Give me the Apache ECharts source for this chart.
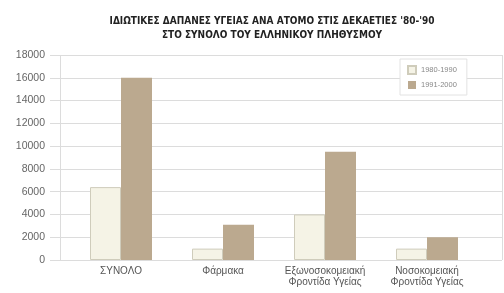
<!DOCTYPE html>
<html>
<head>
<meta charset="utf-8">
<script src="https://cdn.jsdelivr.net/npm/echarts@6/dist/echarts.min.js"></script>
<style>
html,body{margin:0;padding:0;background:#fff;}
#chart{width:504px;height:293px;}
</style>
</head>
<body>
<div id="chart"></div>
<script>
// κατηγορίες και τιμές
const categories = ['ΣΥΝΟΛΟ', 'Φάρμακα', 'Εξωνοσοκομειακή\nΦροντίδα Υγείας', 'Νοσοκομειακή\nΦροντίδα Υγείας']
const seriesNames = ['1980-1990', '1991-2000']
const values8090 = [6400, 1000, 4000, 1000]
const values9100 = [16000, 3100, 9500, 2000]

const chart = echarts.init(document.getElementById('chart'))

const option = {
    animation: false,
    title: {
        text: 'ΙΔΙΩΤΙΚΕΣ ΔΑΠΑΝΕΣ ΥΓΕΙΑΣ ΑΝΑ ΑΤΟΜΟ ΣΤΙΣ ΔΕΚΑΕΤΙΕΣ \'80-\'90\nΣΤΟ ΣΥΝΟΛΟ ΤΟΥ ΕΛΛΗΝΙΚΟΥ ΠΛΗΘΥΣΜΟΥ',
        left: 267,
        textAlign: 'center',
        top: 9,
        textStyle: {
            fontFamily: 'DejaVu Sans Condensed',
            fontWeight: 'bold',
            fontSize: 10,
            lineHeight: 14,
            color: '#222'
        }
    },
    legend: {
        orient: 'vertical',
        left: 400,
        top: 59,
        padding: [6, 10, 6, 7],
        itemWidth: 8,
        itemHeight: 8,
        itemGap: 6,
        icon: 'rect',
        backgroundColor: '#fff',
        borderColor: '#e2e2e2',
        borderWidth: 1,
        textStyle: { fontSize: 7.5, color: '#888', fontFamily: 'Liberation Sans' },
        data: seriesNames
    },
    grid: [
        /* πλαίσιο με άξονα y */
        { left: 60, right: 2, top: 55, bottom: 33 },
        /* περιοχή ράβδων */
        { left: 70, right: 26, top: 55, bottom: 33 }
    ],
    xAxis: [
        {
            gridIndex: 0, type: 'value', min: 0, max: 1, interval: 1,
            axisLine: { show: false }, axisTick: { show: false }, axisLabel: { show: false },
            splitLine: { show: true, lineStyle: { color: '#dcdcdc' } }
        },
        {
            gridIndex: 1, type: 'category', data: categories,
            axisLine: { show: false }, axisTick: { show: false },
            axisLabel: {
                interval: 0, margin: 6, fontSize: 10, lineHeight: 11,
                color: '#555', fontFamily: 'Liberation Sans'
            }
        }
    ],
    yAxis: [
        {
            gridIndex: 0, type: 'value', min: 0, max: 18000, interval: 2000,
            axisLine: { show: false },
            axisTick: { show: true, length: 10, lineStyle: { color: '#dcdcdc' } },
            axisLabel: {
                fontSize: 10.5, color: '#666', margin: 15, fontFamily: 'Liberation Sans',
                formatter: v => String(v)
            },
            splitLine: { show: true, lineStyle: { color: '#dcdcdc' } }
        },
        {
            gridIndex: 1, type: 'value', min: 0, max: 18000, interval: 2000,
            show: false
        }
    ],
    series: [
        {
            name: seriesNames[0], type: 'bar', xAxisIndex: 1, yAxisIndex: 1,
            barWidth: 31, barGap: '0%',
            itemStyle: { color: '#f5f3e6', borderColor: '#cfccbb', borderWidth: 1 },
            data: values8090
        },
        {
            name: seriesNames[1], type: 'bar', xAxisIndex: 1, yAxisIndex: 1,
            barWidth: 31, barGap: '0%',
            itemStyle: { color: '#bba98f' },
            data: values9100
        }
    ]
}
chart.setOption(option)
</script>
</body>
</html>
